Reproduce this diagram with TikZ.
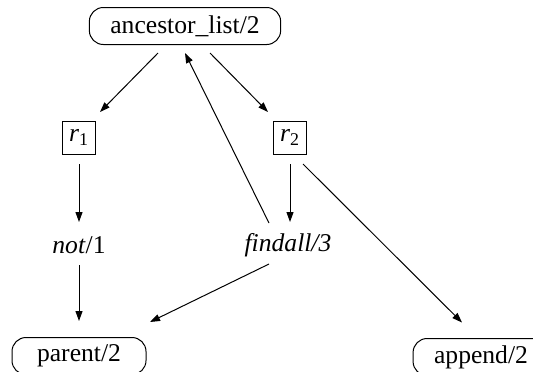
\documentclass[tikz,border=0pt]{standalone}
\usepackage{fontspec}
\setmainfont{Liberation Serif}
\usepackage{tikz}
\usetikzlibrary{arrows.meta}

\begin{document}
\begin{tikzpicture}[
  x=0.5pt, y=-0.5pt,
  font=\fontsize{12.8}{15}\selectfont,
  pred/.style={rectangle, draw, rounded corners=7pt, line width=0.5pt, minimum height=18.5pt, inner xsep=10.5pt},
  rulebox/.style={rectangle, draw, line width=0.5pt, minimum size=16.5pt, inner sep=0pt},
  call/.style={inner sep=0pt},
  arrow/.style={-{Triangle[length=5pt, width=3.5pt]}, line width=0.5pt}
]
  \useasboundingbox (0,0) rectangle (533,371);

  \node[pred] (anc) at (185,26) {ancestor\_list/2};
  \node[rulebox] (r1) at (79,137.5) {\textit{r}\textsubscript{1}};
  \node[rulebox] (r2) at (290,137.5) {\textit{r}\textsubscript{2}};
  \node[call] (not) at (79,245) {\textit{not}/1};
  \node[call] (find) at (288,245) {\textit{findall/3}};
  \node[pred, minimum width=67pt] (par) at (79,356) {parent/2};
  \node[pred] (app) at (481,357) {append/2};

  \draw[arrow] ([shift={(-27,27)}]anc.center) -- ([shift={(21,-25.5)}]r1.center);
  \draw[arrow] ([shift={(25,27)}]anc.center) -- ([shift={(-22,-25.5)}]r2.center);
  \draw[arrow] ([shift={(-19,-22)}]find.center) -- ([shift={(0,27)}]anc.center);
  \draw[arrow] ([shift={(0,26.5)}]r1.center) -- ([shift={(0,-23)}]not.center);
  \draw[arrow] ([shift={(0,26.5)}]r2.center) -- ([shift={(2,-23)}]find.center);
  \draw[arrow] ([shift={(0,20)}]not.center) -- ([shift={(0,-35)}]par.center);
  \draw[arrow] ([shift={(-19,19)}]find.center) -- ([shift={(71,-34)}]par.center);
  \draw[arrow] ([shift={(13,26.5)}]r2.center) -- ([shift={(-19,-34.5)}]app.center);
\end{tikzpicture}
\end{document}
